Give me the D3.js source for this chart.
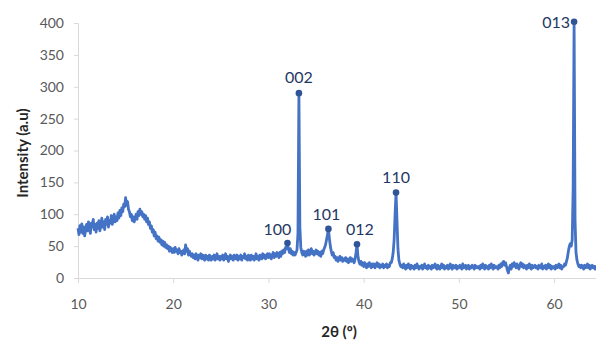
<!DOCTYPE html>
<html><head><meta charset="utf-8">
<script src="https://cdn.jsdelivr.net/npm/d3@7"></script>
<style>body{margin:0;background:#fff}svg{display:block}</style>
</head><body>
<script>
// Scan start/step (degrees 2θ) and intensity values
const scanStart = 10.0;
const scanStep = 0.1;
const intensity = [
 78,68,82,72,85,70,80,66,76,84,      // 10
 74,88,78,70,86,80,92,76,84,72,      // 11
 86,78,90,74,82,94,80,88,76,92,      // 12
 84,96,80,90,86,98,84,92,100,88,     // 13
 96,90,102,94,106,98,110,104,116,112,// 14
 126,114,120,108,104,96,100,90,96,88,// 15
 94,100,92,104,98,108,100,104,96,100,// 16
 92,98,88,94,84,88,78,82,72,76,      // 17
 66,72,62,66,58,64,56,60,52,58,      // 18
 50,56,48,52,46,50,42,48,44,40,      // 19
 46,40,48,42,44,38,46,40,42,36,      // 20
 40,44,38,52,42,46,36,42,38,34,      // 21
 38,32,36,30,38,34,28,36,32,38,      // 22
 30,36,32,28,36,30,34,28,36,32,      // 23
 28,34,30,36,28,32,38,30,34,28,      // 24
 34,30,36,28,32,38,30,34,26,32,      // 25
 36,30,34,28,36,32,30,36,28,34,      // 26
 30,36,28,34,32,38,30,34,28,36,      // 27
 32,28,36,30,34,28,32,38,30,34,      // 28
 28,36,32,30,38,32,36,30,34,38,      // 29
 32,38,34,30,36,40,32,38,34,40,      // 30
 36,32,40,34,42,38,44,40,48,46,      // 31
 52,46,40,46,38,42,36,40,36,40,      // 32
 44,70,290,80,48,40,36,42,38,34,     // 33
 42,36,44,36,40,46,38,42,36,40,      // 34
 44,38,42,36,40,34,42,38,44,48,      // 35
 52,60,68,77,62,50,42,36,40,32,      // 36
 34,28,32,26,30,34,28,32,26,30,      // 37
 28,32,26,30,24,28,32,26,30,28,      // 38
 24,30,40,53,34,26,22,26,20,24,      // 39
 18,24,20,16,22,18,24,20,16,22,      // 40
 18,22,16,20,24,18,22,16,20,18,      // 41
 22,16,20,18,22,16,20,18,24,24,      // 42
 30,40,60,100,134,90,46,28,22,18,    // 43
 20,16,22,18,14,20,16,22,18,14,      // 44
 20,16,18,14,20,16,22,18,14,18,      // 45
 16,20,14,18,22,16,18,14,20,16,      // 46
 18,14,20,16,18,22,16,14,20,18,      // 47
 14,18,22,16,20,14,18,16,20,14,      // 48
 18,22,16,14,20,18,16,20,14,18,      // 49
 16,20,18,14,22,16,18,20,14,18,      // 50
 20,14,18,16,20,18,14,20,16,18,      // 51
 16,18,14,20,16,22,18,14,20,16,      // 52
 18,14,20,16,22,18,14,20,16,18,      // 53
 18,14,20,16,22,18,24,26,20,24,      // 54
 18,12,8,16,20,14,22,18,24,20,       // 55
 16,22,18,14,20,24,18,22,16,20,      // 56
 18,14,20,16,22,18,14,20,16,18,      // 57
 20,16,18,14,20,18,16,22,14,18,      // 58
 16,20,14,18,22,16,20,14,18,16,      // 59
 18,14,20,16,18,22,16,20,14,18,      // 60
 18,22,20,26,32,42,50,54,50,60,      // 61
 140,402,90,40,28,22,18,20,16,20,    // 62
 18,14,20,16,18,22,16,20,14,18,      // 63
 20,16,18,14,20                      // 64
];
const peakLabels = ["100","002","101","012","110","013"];
const peakAngles = [32.0, 33.2, 36.3, 39.3, 43.4, 62.1];
const peakValues = [55, 290, 77, 53, 134, 402];
const xTicks = [10,20,30,40,50,60];
const yTicks = [0,50,100,150,200,250,300,350,400];
const xTitle = "2θ (º)";
const yTitle = "Intensity (a.u)";

const W = 596, H = 340;
const svg = d3.select("body").append("svg").attr("width", W).attr("height", H);
const font = "Lato, 'Open Sans', sans-serif";

const x = d3.scaleLinear().domain([10, 64.4]).range([78, 596]);
const y = d3.scaleLinear().domain([0, 400]).range([278, 23]);

const data = intensity.map((v, i) => ({a: scanStart + i * scanStep, v}));

// axes
const gx = svg.append("g").attr("transform", `translate(0,${y(0)})`)
  .call(d3.axisBottom(x).tickValues(xTicks).tickSize(5).tickPadding(16).tickFormat(d3.format("d")));
const gy = svg.append("g").attr("transform", `translate(${x(10)},0)`)
  .call(d3.axisLeft(y).tickValues(yTicks).tickSize(4).tickPadding(10).tickFormat(d3.format("d")));
[gx, gy].forEach(g => {
  g.select(".domain").attr("stroke", "#d9d9d9");
  g.selectAll(".tick line").attr("stroke", "#d9d9d9");
  g.selectAll(".tick text").attr("fill", "#595959").style("font-family", font).style("font-size", "14px");
});

// line
svg.append("path").datum(data)
  .attr("fill", "none").attr("stroke", "#4472c4").attr("stroke-width", 2.8)
  .attr("stroke-linejoin", "round")
  .attr("d", d3.line().x(d => x(d.a)).y(d => y(d.v)));

// peak markers
const peaks = peakLabels.map((l, i) => ({l, a: peakAngles[i], v: peakValues[i]}));
svg.selectAll("circle.pk").data(peaks).enter().append("circle")
  .attr("cx", d => x(d.a)).attr("cy", d => y(d.v)).attr("r", 3.3)
  .attr("fill", "#2f5597");
const offs = {"100":[-10,-8,"middle"],"002":[0,-10,"middle"],"101":[-2,-9,"middle"],"012":[3,-9,"middle"],"110":[0,-10,"middle"],"013":[-4,6,"end"]};
svg.selectAll("text.pk").data(peaks).enter().append("text")
  .attr("x", d => x(d.a) + offs[d.l][0]).attr("y", d => y(d.v) + offs[d.l][1])
  .attr("text-anchor", d => offs[d.l][2])
  .attr("fill", "#1f3864").style("font-family", font).style("font-size", "16px")
  .text(d => d.l);

// titles
svg.append("text").attr("x", 339).attr("y", 337).attr("text-anchor", "middle")
  .attr("fill", "#262626").style("font-family", font).style("font-size", "15px").style("font-weight", "bold")
  .text(xTitle);
svg.append("text").attr("transform", "translate(28,153) rotate(-90)").attr("text-anchor", "middle")
  .attr("fill", "#262626").style("font-family", font).style("font-size", "15px").style("font-weight", "bold")
  .text(yTitle);
</script>
</body></html>
